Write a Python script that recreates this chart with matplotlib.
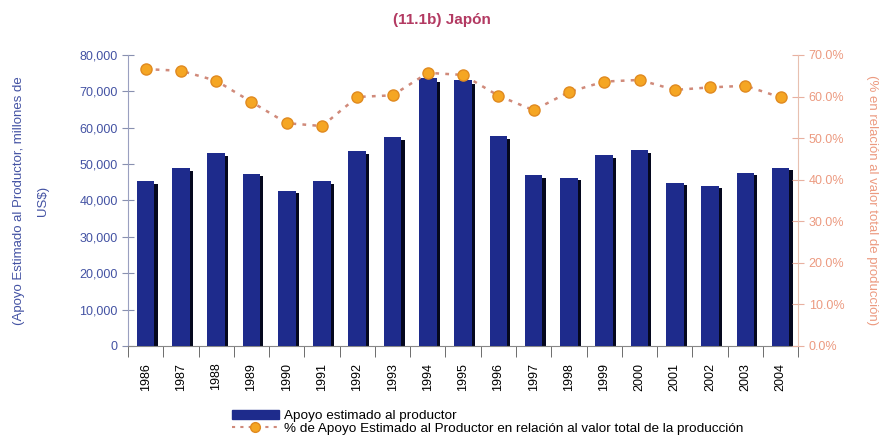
import numpy as np
import matplotlib.pyplot as plt
from matplotlib.patches import Patch
from matplotlib.lines import Line2D
from matplotlib.ticker import FuncFormatter

plt.rcParams['font.family'] = ['Liberation Sans', 'DejaVu Sans']

# datos
anios = ['1986', '1987', '1988', '1989', '1990', '1991', '1992', '1993', '1994', '1995',
         '1996', '1997', '1998', '1999', '2000', '2001', '2002', '2003', '2004']
apoyo = [45300, 48800, 53000, 47400, 42600, 45300, 53500, 57500, 73600, 73100,
         57700, 46900, 46200, 52600, 53800, 44900, 44100, 47600, 49000]
porcentaje = [66.6, 66.2, 63.8, 58.7, 53.6, 52.9, 59.9, 60.3, 65.7, 65.2,
              60.2, 56.7, 61.1, 63.6, 64.0, 61.6, 62.2, 62.6, 59.8]

azul = '#1e2b8c'
azul_txt = '#4352a3'
salmon = '#ec9a80'
naranja = '#f5a623'
punteado = (0, (1.5, 2.5))

fig = plt.figure(figsize=(8.83, 4.47), dpi=100)
ax = fig.add_axes([0.145, 0.226, 0.759, 0.651])
ax2 = ax.twinx()

x = np.arange(len(anios))
# lado oscuro de la barra (efecto 3D)
ax.bar(x + 0.09, np.array(apoyo) * 0.985, width=0.5, color='#05081e', zorder=2)
ax.bar(x, apoyo, width=0.5, color=azul, zorder=3)

ax.set_xlim(-0.5, len(anios) - 0.5)
ax.set_ylim(0, 80000)
ax.set_yticks(range(0, 80001, 10000))
ax.yaxis.set_major_formatter(FuncFormatter(lambda v, p: f'{int(v):,}'))
ax.tick_params(axis='y', colors='#8890b0', labelcolor=azul_txt, labelsize=9,
               direction='inout', length=8)
ax.set_xticks(x)
ax.set_xticklabels(anios, rotation=90, fontsize=9)
ax.tick_params(axis='x', length=0, pad=12)
ax.set_xticks(np.arange(-0.5, len(anios), 1), minor=True)
ax.tick_params(axis='x', which='minor', length=8, direction='out', color='#555555')
ax.set_ylabel('(Apoyo Estimado al Productor, millones de\nUS$)', color=azul_txt,
              fontsize=9.5, labelpad=22, linespacing=2.3)

ax2.plot(x, porcentaje, linestyle=punteado, color='#d08a7a', linewidth=1.8,
         marker='o', markersize=8, markerfacecolor=naranja, markeredgecolor='#e08a20',
         zorder=5)
ax2.set_ylim(0, 70)
ax2.set_yticks(range(0, 71, 10))
ax2.yaxis.set_major_formatter(FuncFormatter(lambda v, p: f'{v:.1f}%'))
ax2.tick_params(axis='y', colors='#e8b0a0', labelcolor=salmon, labelsize=9,
                direction='inout', length=8)
ax2.set_ylabel('(% en relación al valor total de producción)', color=salmon,
               fontsize=9.5, rotation=270, labelpad=24)

for a in (ax, ax2):
    a.spines['top'].set_visible(False)
ax.spines['left'].set_color('#9aa0c0')
ax2.spines['left'].set_visible(False)
ax2.spines['right'].set_color('#e8c0b0')
ax.spines['right'].set_visible(False)
ax2.spines['bottom'].set_visible(False)
ax.spines['bottom'].set_color('#888888')

fig.text(0.5, 0.955, '(11.1b) Japón', ha='center', va='center', fontsize=11,
         fontweight='bold', color='#b33a62')

handles = [Patch(facecolor=azul, edgecolor=azul),
           Line2D([0], [0], linestyle=punteado, color='#d08a7a', linewidth=1.5,
                  marker='o', markersize=7, markerfacecolor=naranja,
                  markeredgecolor='#e08a20')]
labels = ['Apoyo estimado al productor',
          '% de Apoyo Estimado al Productor en relación al valor total de la producción']
fig.legend(handles, labels, loc='center left', bbox_to_anchor=(0.255, 0.055),
           frameon=False, fontsize=9.7, handlelength=3.5, labelspacing=0.05,
           handletextpad=0.4, borderpad=0)

fig.savefig('out.png', dpi=100)
